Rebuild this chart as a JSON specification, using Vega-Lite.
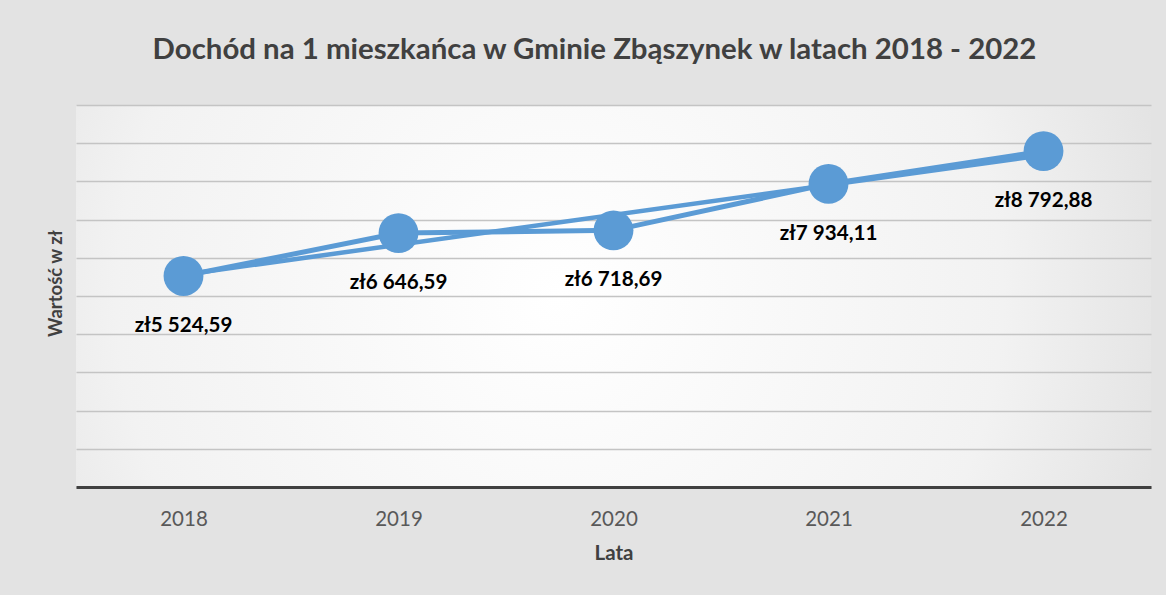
{
  "$schema": "https://vega.github.io/schema/vega-lite/v6.json",
  "width": 1075,
  "height": 382,
  "autosize": {"type": "none"},
  "padding": {"left": 76, "top": 105, "right": 15, "bottom": 108},
  "background": "#e3e3e3",
  "title": {
    "text": "Dochód na 1 mieszkańca w Gminie Zbąszynek w latach 2018 - 2022",
    "font": "Lato",
    "fontSize": 29.4,
    "fontWeight": "bold",
    "color": "#404040",
    "anchor": "middle",
    "baseline": "alphabetic",
    "offset": 17,
    "dx": -19
  },
  "data": {
    "values": [
      {"rok": 2018, "wartosc": 5524.59},
      {"rok": 2019, "wartosc": 6646.59},
      {"rok": 2020, "wartosc": 6718.69},
      {"rok": 2021, "wartosc": 7934.11},
      {"rok": 2022, "wartosc": 8792.88}
    ]
  },
  "encoding": {
    "x": {
      "field": "rok",
      "type": "quantitative",
      "scale": {"domain": [2017.5, 2022.5], "nice": false, "zero": false},
      "axis": {
        "values": [2018, 2019, 2020, 2021, 2022],
        "format": "d",
        "ticks": false,
        "grid": false,
        "domainColor": "#404040",
        "domainWidth": 3,
        "labelFont": "Lato",
        "labelFontSize": 20.5,
        "labelColor": "#595959",
        "labelPadding": 22,
        "title": "Lata",
        "titleFont": "Lato",
        "titleFontSize": 20.5,
        "titleFontWeight": "bold",
        "titleColor": "#404040",
        "titlePadding": 14
      }
    },
    "y": {
      "field": "wartosc",
      "type": "quantitative",
      "scale": {"domain": [0, 10000], "nice": false},
      "axis": {
        "values": [0, 1000, 2000, 3000, 4000, 5000, 6000, 7000, 8000, 9000, 10000],
        "labels": false,
        "ticks": false,
        "domain": false,
        "grid": true,
        "gridColor": "#c4c4c4",
        "gridWidth": 1.5,
        "title": "Wartość w zł",
        "titleFont": "Lato",
        "titleFontSize": 18.5,
        "titleFontWeight": "bold",
        "titleColor": "#404040",
        "titlePadding": 11,
        "titleY": 178,
        "minExtent": 0
      }
    }
  },
  "layer": [
    {
      "transform": [{"regression": "wartosc", "on": "rok"}],
      "mark": {"type": "line", "color": "#5B9BD5", "strokeWidth": 4.5}
    },
    {
      "mark": {"type": "line", "color": "#5B9BD5", "strokeWidth": 5}
    },
    {
      "mark": {"type": "point", "filled": true, "opacity": 1, "size": 1590, "color": "#5B9BD5"}
    },
    {
      "mark": {
        "type": "text",
        "font": "Lato",
        "fontWeight": "bold",
        "fontSize": 20.6,
        "baseline": "alphabetic",
        "dy": 56,
        "color": "#000000"
      },
      "encoding": {
        "text": {"field": "wartosc", "type": "quantitative", "format": "$,.2f"}
      }
    }
  ],
  "config": {
    "locale": {
      "number": {
        "decimal": ",",
        "thousands": " ",
        "grouping": [3],
        "currency": ["zł", ""]
      }
    },
    "view": {
      "stroke": null,
      "fill": {
        "gradient": "radial",
        "x1": 0.45, "y1": 0.5, "r1": 0,
        "x2": 0.45, "y2": 0.5, "r2": 0.75,
        "stops": [
          {"offset": 0, "color": "#ffffff"},
          {"offset": 0.55, "color": "#f2f2f2"},
          {"offset": 1, "color": "#d4d4d4"}
        ]
      }
    }
  }
}
